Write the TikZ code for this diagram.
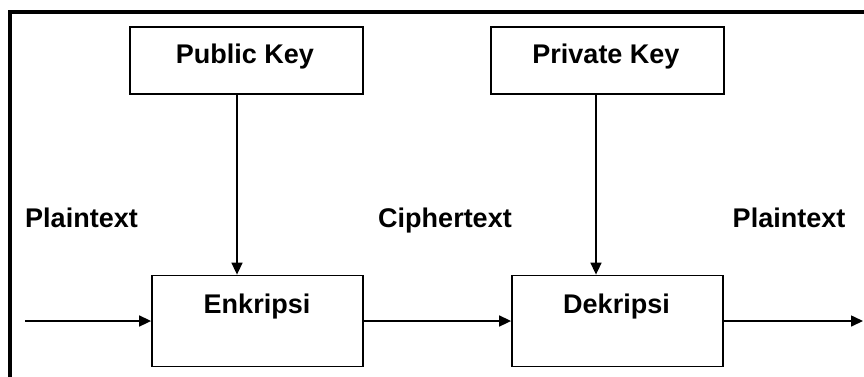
\documentclass[tikz,border=0pt]{standalone}
\usepackage{fontspec}
\setmainfont{Liberation Sans}
\usetikzlibrary{arrows.meta}
\tikzset{
  box/.style={draw=black, line width=1.8pt, fill=white, inner sep=0pt},
  lbl/.style={anchor=base, inner sep=0pt, font=\fontsize{27}{32}\selectfont\bfseries},
  arr/.style={line width=1.6pt, -{Triangle[length=12pt,width=11pt]}},
  frame/.style={line width=3.2pt}
}
\begin{document}
\begin{tikzpicture}[x=1pt,y=-1pt]
\useasboundingbox (0,0) rectangle (864,376);
\fill[white] (0,0) rectangle (864,376);
% frame (left and top, cut off at right and bottom)
\draw[frame] (10,380) -- (10,12) -- (870,12);
% boxes
\node[box, minimum width=233pt, minimum height=67pt] (pub) at (246.5,60.5) {};
\node[box, minimum width=233pt, minimum height=67pt] (priv) at (607.5,60.5) {};
\node[box, minimum width=211pt, minimum height=91pt] (enk) at (257.5,321) {};
\node[box, minimum width=211pt, minimum height=91pt] (dek) at (617.5,321) {};
% box texts
\node[lbl] (tpub) at (245,63) {Public Key};
\node[lbl] (tpriv) at (606,63) {Private Key};
\node[lbl] (tenk) at (257,313) {Enkripsi};
\node[lbl] (tdek) at (616.5,313) {Dekripsi};
% free labels
\node[lbl] (pt1) at (81.5,227) {Plaintext};
\node[lbl] (ct) at (445,227) {Ciphertext};
\node[lbl] (pt2) at (789,227) {Plaintext};
% connector coordinates
\coordinate (a1) at (237,0);
\coordinate (a2) at (596,0);
\coordinate (in) at (25,321);
\coordinate (out) at (863,321);
% connectors
\draw[arr] (pub.south -| a1) -- (enk.north -| a1);
\draw[arr] (priv.south -| a2) -- (dek.north -| a2);
\draw[arr] (in) -- (enk.west);
\draw[arr] (enk.east) -- (dek.west);
\draw[arr] (dek.east) -- (out);
\end{tikzpicture}
\end{document}
